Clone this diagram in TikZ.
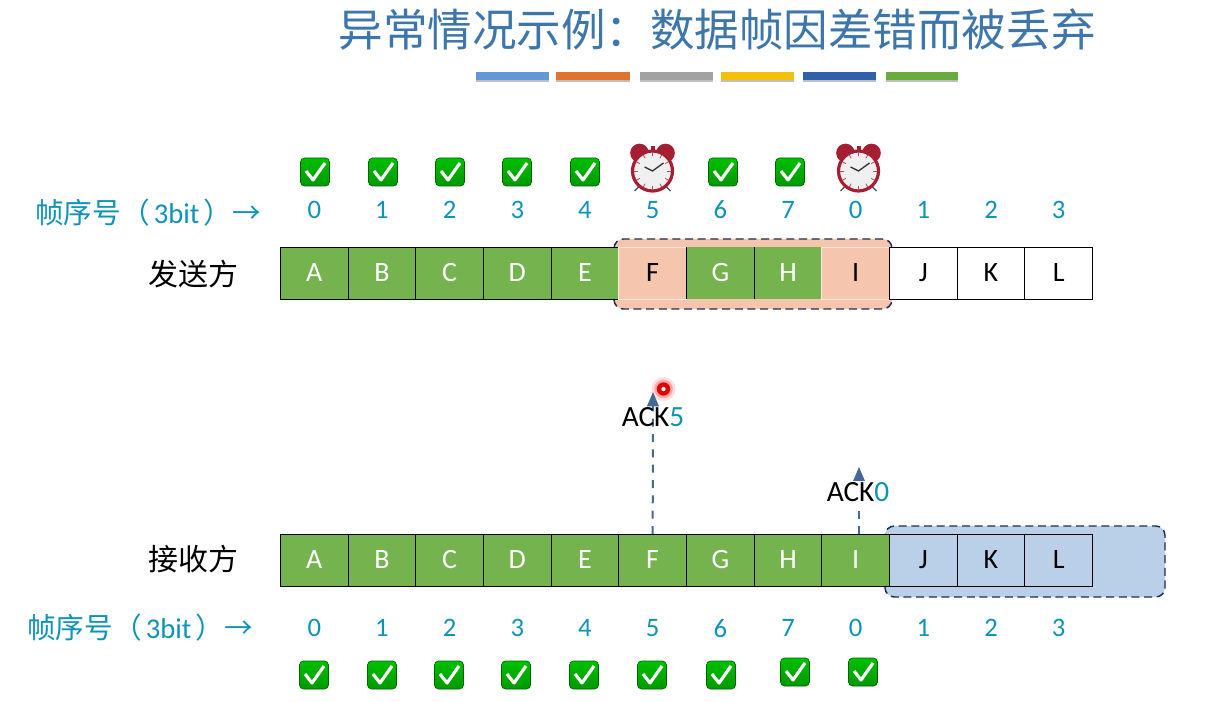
\documentclass[tikz,border=0pt]{standalone}
\usepackage{fontspec}
\usepackage{xcolor}
\usepackage{tikz}
\usetikzlibrary{shapes,arrows,positioning,calc}
\setmainfont{Carlito}
\newfontfamily\cjk{Noto Sans CJK SC}
\definecolor{titleblue}{RGB}{61,118,170}
\definecolor{seqblue}{RGB}{14,147,184}
\definecolor{framegreen}{RGB}{117,179,79}
\definecolor{lostpink}{RGB}{245,197,174}
\definecolor{winblue}{RGB}{186,208,233}
\definecolor{windash}{RGB}{30,44,80}
\definecolor{ackblue}{RGB}{68,105,150}
\definecolor{bellred}{RGB}{165,30,50}
\definecolor{barblue}{RGB}{98,152,212}
\definecolor{barorange}{RGB}{222,116,46}
\definecolor{bargray}{RGB}{162,162,162}
\definecolor{baryellow}{RGB}{243,193,10}
\definecolor{barnavy}{RGB}{48,96,170}
\definecolor{bargreen}{RGB}{106,171,62}
\tikzset{
    framecell/.style={draw=black, line width=0.6pt, minimum width=50.75pt, minimum height=39pt, inner sep=0pt, outer sep=0pt, font=\fontsize{21}{23}\selectfont},
    okframe/.style={framecell, fill=framegreen, text=white},
    ackedframe/.style={framecell, draw=none, fill=framegreen, text=white},
    lostframe/.style={framecell, draw=lostpink!40!white, fill=lostpink, text=black},
    idleframe/.style={framecell, fill=white, text=black},
    recvframe/.style={framecell, fill=winblue, text=black},
    seqnum/.style={text=seqblue, inner sep=0pt, outer sep=0pt, font=\fontsize{20}{22}\selectfont},
    seqlabel/.style={text=seqblue, inner sep=0pt, font=\fontsize{21.5}{24}\selectfont},
    sidelabel/.style={font=\cjk\fontsize{22.5}{25}\selectfont, inner sep=0pt},
    winbox/.style={dash pattern=on 6pt off 3.5pt, draw=windash, line width=1.1pt, rounded corners=7pt},
    ackline/.style={draw=ackblue, line width=1.5pt, dash pattern=on 6pt off 5.5pt, -triangle 45},
    acklabel/.style={inner sep=1pt, font=\fontsize{22}{24}\selectfont},
    okbox/.pic={
        \draw[rounded corners=3pt, draw=black!60!green, line width=0.5pt, top color=green!75!black, bottom color=green!60!black] (-14.5,-14) rectangle (14.5,14);
        \draw[white, line width=2.4pt, line join=round] (-9,-1) -- (-2,8) -- (10,-9);
    },
    clockpic/.pic={
        \fill[bellred] (-13,-18) circle (7pt);
        \fill[bellred] (13,-18) circle (7pt);
        \fill[bellred] (-2,-25) rectangle (2,-20);
        \draw[black!70, line width=1pt] (-13,15) -- (-18,20);
        \draw[black!70, line width=1pt] (13,15) -- (18,20);
        \draw[bellred, fill=black!6, line width=2.4pt] (0,0) circle (15pt);
        \foreach \a in {0,30,...,330}
            \draw[bellred!80, line width=0.6pt] (\a:11pt) -- (\a:14pt);
        \draw[black!80, line width=1pt] (-8,-4) -- (0,0) -- (11,-8);
    }
}

\begin{document}
\begin{tikzpicture}[x=0.75pt, y=-0.75pt]
    \useasboundingbox (0,0) rectangle (1217,702);

    \node[font=\cjk\fontsize{33.4}{36}\selectfont, text=titleblue, inner sep=0pt] (title) at (717,29) {异常情况示例：数据帧因差错而被丢弃};

    \foreach \xa/\xb/\barcolor in {476/549/barblue,556/630/barorange,640/713/bargray,721/794/baryellow,803/876/barnavy,886/958/bargreen} {
        \fill[black!25] (\xa,75) rectangle (\xb,82.5);
        \fill[\barcolor] (\xa,72) rectangle (\xb,80);
    }

    % windows go under the cells
    \draw[winbox, fill=lostpink] (614,239) rectangle (892,309);
    \draw[winbox, fill=winblue] (885,526) rectangle (1165,597);

    % sender
    \node[okframe, anchor=west] (sA) at (280.5,273) {A};
    \foreach \l/\p/\s in {B/A/okframe,C/B/okframe,D/C/okframe,E/D/okframe,F/E/lostframe,G/F/ackedframe,H/G/ackedframe,I/H/lostframe,J/I/idleframe,K/J/idleframe,L/K/idleframe}
        \node[\s, right=0pt of s\p] (s\l) {\l};
    \draw[line width=0.6pt] (sF.north east) -- (sF.south east);
    \draw[line width=0.6pt] (sG.north east) -- (sG.south east);

    % receiver
    \node[okframe, anchor=west] (rA) at (280.5,560) {A};
    \foreach \l/\p/\s in {B/A/okframe,C/B/okframe,D/C/okframe,E/D/okframe,F/E/okframe,G/F/okframe,H/G/okframe,I/H/okframe,J/I/recvframe,K/J/recvframe,L/K/recvframe}
        \node[\s, right=0pt of r\p] (r\l) {\l};

    \node[sidelabel] (sender) at (193,274) {发送方};
    \node[sidelabel] (receiver) at (193,559) {接收方};

    \node[seqlabel] (seqtop) at (148,213) {{\cjk 帧序号（}\hspace{3pt}3bit\hspace{3pt}{\cjk ）→}};
    \node[seqlabel] (seqbot) at (140,628) {{\cjk 帧序号（}\hspace{3pt}3bit\hspace{3pt}{\cjk ）→}};

    \foreach \l/\n in {A/0,B/1,C/2,D/3,E/4,F/5,G/6,H/7,I/0,J/1,K/2,L/3} {
        \node[seqnum, above=21.5pt of s\l] (ns\l) {\n};
        \node[seqnum, below=25pt of r\l] (nr\l) {\n};
    }

    \foreach \x in {315,383,450,517,585,723,790}
        \pic at (\x,172) {okbox};
    \pic at (652.5,171) {clockpic};
    \pic at (858.5,171) {clockpic};

    \foreach \x/\y in {314/675,382/675,449/675,516/675,584/675,652/675,721/675,795/672,863/672}
        \pic at (\x,\y) {okbox};

    % acks
    \coordinate (tipF) at (653,392);
    \coordinate (tipI) at (859,467);
    \draw[ackline] (rF.north) -- (tipF);
    \draw[ackline] (tipI |- rI.north) -- (tipI);
    \node[acklabel] (ackF) at (653,417) {ACK\textcolor{seqblue}{5}};
    \node[acklabel, fill=white] (ackI) at (858,492) {ACK\textcolor{seqblue}{0}};

    % laser dot
    \fill[red, opacity=0.12] (663.5,389) circle (9pt);
    \fill[red, opacity=0.25] (663.5,389) circle (7pt);
    \fill[red!90!black] (663.5,389) circle (5pt);
    \fill[white] (663.5,389) circle (1.6pt);
\end{tikzpicture}
\end{document}
